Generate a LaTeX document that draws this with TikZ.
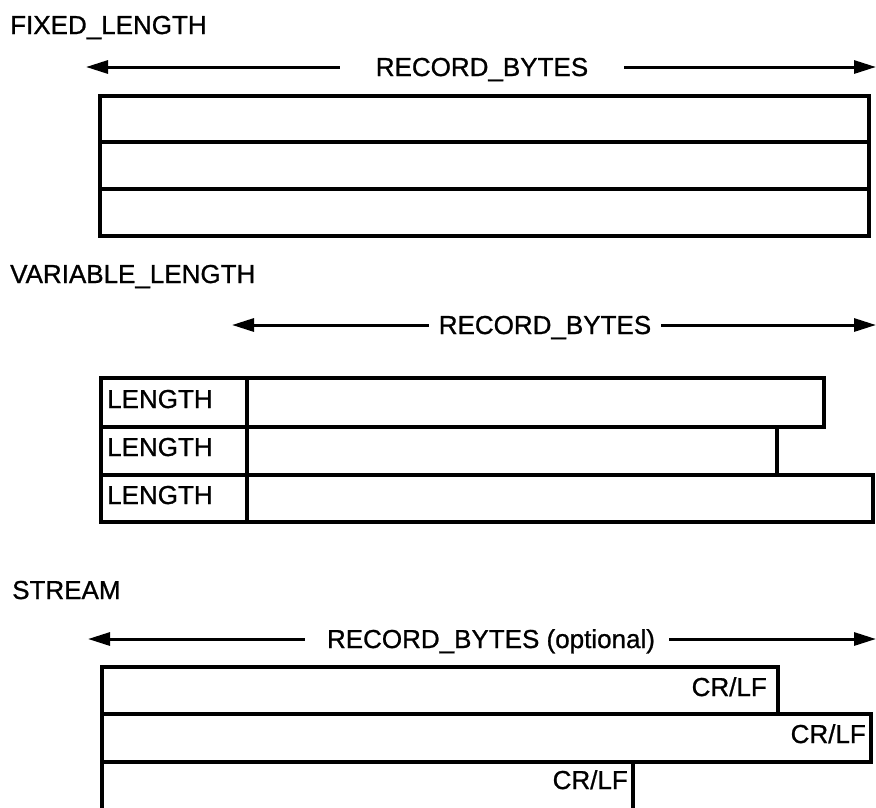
\documentclass[tikz,border=0pt]{standalone}
\usepackage{fontspec}
\setmainfont{Liberation Sans}
\newfontfamily\lblfont[UprightFeatures={FakeBold=0.9}]{Liberation Sans}
\usetikzlibrary{arrows.meta}
\begin{document}
\begin{tikzpicture}[x=1pt,y=-1pt,
  lbl/.style={inner sep=0pt,font=\fontsize{26}{30}\lblfont},
  boxline/.style={line width=3.4pt,line join=miter},
  arr/.style={line width=3pt,-{Triangle[length=22pt,width=13pt]}}]
\useasboundingbox[fill=white] (0,0) rectangle (876,807);
\clip (0,0) rectangle (876,807);
% ---------- FIXED_LENGTH ----------
\node[lbl,anchor=base west] (t1) at (10,34) {FIXED\_LENGTH};
\node[lbl,anchor=base] (r1) at (482,76) {RECORD\_BYTES};
\coordinate (a1l) at (86,67);
\coordinate (a1r) at (876,67);
\draw[arr] ([xshift=-36pt]r1.west |- a1l) -- (a1l);
\draw[arr] ([xshift=36pt]r1.east |- a1r) -- (a1r);
\draw[boxline] (100,96) rectangle (869,236);
\draw[boxline] (100,142) -- (869,142);
\draw[boxline] (100,189) -- (869,189);
% ---------- VARIABLE_LENGTH ----------
\node[lbl,anchor=base west] (t2) at (10,283) {VARIABLE\_LENGTH};
\node[lbl,anchor=base] (r2) at (545,334) {RECORD\_BYTES};
\coordinate (a2l) at (232,325);
\coordinate (a2r) at (876,325);
\draw[arr] ([xshift=-10pt]r2.west |- a2l) -- (a2l);
\draw[arr] ([xshift=10pt]r2.east |- a2r) -- (a2r);
\draw[boxline] (101,378) rectangle (824,427);
\draw[boxline] (101,427) rectangle (777,475);
\draw[boxline] (101,475) rectangle (873,522);
\draw[boxline] (247,378) -- (247,522);
\node[lbl,anchor=base west] (l1) at (107,408) {LENGTH};
\node[lbl,anchor=base west] (l2) at (107,456) {LENGTH};
\node[lbl,anchor=base west] (l3) at (107,504) {LENGTH};
% ---------- STREAM ----------
\node[lbl,anchor=base west] (t3) at (12,599) {STREAM};
\node[lbl,anchor=base] (r3) at (491,648) {RECORD\_BYTES (optional)};
\coordinate (a3l) at (88,639);
\coordinate (a3r) at (876,639);
\draw[arr] ([xshift=-22pt]r3.west |- a3l) -- (a3l);
\draw[arr] ([xshift=14pt]r3.east |- a3r) -- (a3r);
\draw[boxline] (102,667) rectangle (778,714);
\draw[boxline] (102,714) rectangle (871,762);
\draw[boxline] (102,815) -- (102,762) -- (633,762) -- (633,815);
\node[lbl,anchor=base east] (c1) at (767,696) {CR/LF};
\node[lbl,anchor=base east] (c2) at (866,743) {CR/LF};
\node[lbl,anchor=base east] (c3) at (628,789) {CR/LF};
\end{tikzpicture}
\end{document}
